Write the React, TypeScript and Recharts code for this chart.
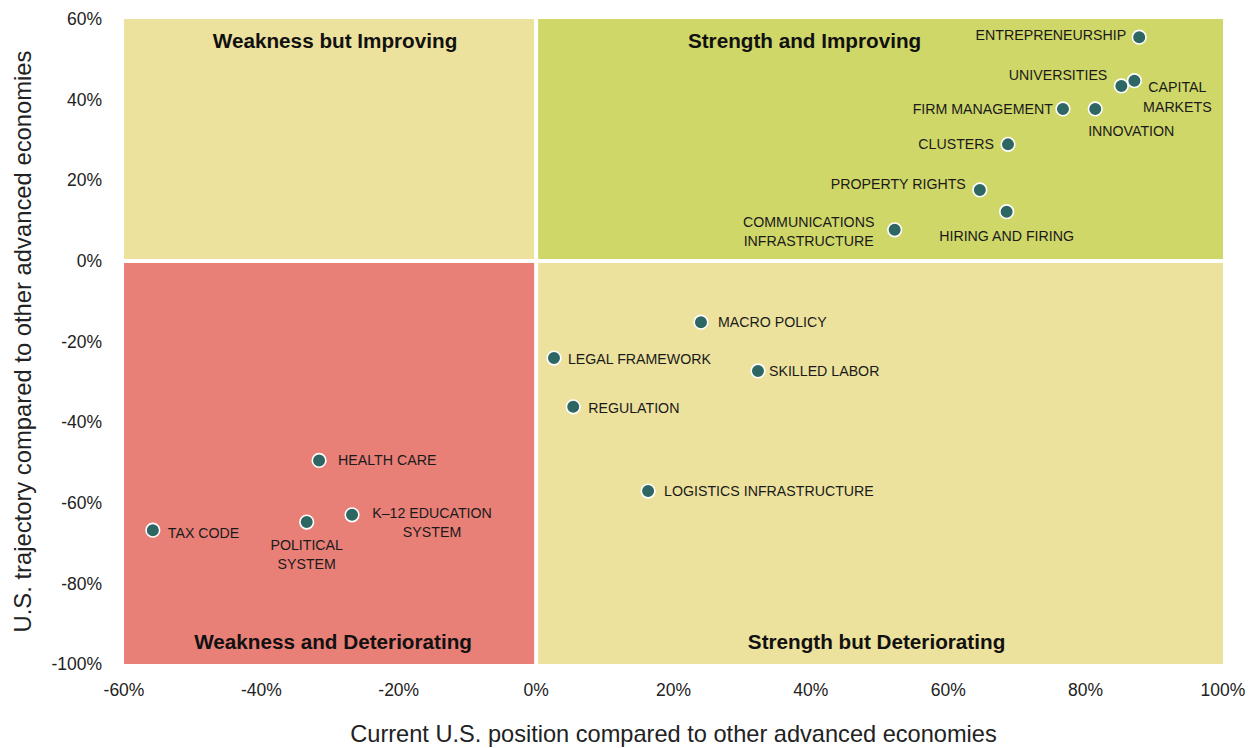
import React from 'react';
import {
  ScatterChart,
  Scatter,
  XAxis,
  YAxis,
  ReferenceArea,
  ReferenceLine,
} from 'recharts';

// ---- data ----
const names: string[] = [
  'ENTREPRENEURSHIP',
  'UNIVERSITIES',
  'CAPITAL\nMARKETS',
  'FIRM MANAGEMENT',
  'INNOVATION',
  'CLUSTERS',
  'PROPERTY RIGHTS',
  'HIRING AND FIRING',
  'COMMUNICATIONS\nINFRASTRUCTURE',
  'MACRO POLICY',
  'LEGAL FRAMEWORK',
  'SKILLED LABOR',
  'REGULATION',
  'LOGISTICS INFRASTRUCTURE',
  'HEALTH CARE',
  'K\u201312 EDUCATION\nSYSTEM',
  'POLITICAL\nSYSTEM',
  'TAX CODE',
];
const positionValues: number[] = [
  87.8, 85.2, 87.1, 76.7, 81.4, 68.7, 64.6, 68.5, 52.2, 24.0, 2.6, 32.3, 5.4, 16.3, -31.6, -26.8, -33.4, -55.8,
];
const trajectoryValues: number[] = [
  55.5, 43.4, 44.7, 37.7, 37.7, 28.9, 17.6, 12.2, 7.7, -15.2, -24.1, -27.3, -36.2, -57.1, -49.5, -63.0, -64.8, -66.8,
];
const xTicks: number[] = [-60, -40, -20, 0, 20, 40, 60, 80, 100];
const yTicks: number[] = [60, 40, 20, 0, -20, -40, -60, -80, -100];
const quadrantTitles: string[] = [
  'Weakness but Improving',
  'Strength and Improving',
  'Weakness and Deteriorating',
  'Strength but Deteriorating',
];

// ---- label placement (style) ----
type Place = { anchor: 'start' | 'middle' | 'end'; dx: number; dy: number; gap: number };
const labelPlacement: Place[] = [
  { anchor: 'end', dx: -13, dy: -2, gap: 19 },
  { anchor: 'end', dx: -14, dy: -11, gap: 19 },
  { anchor: 'middle', dx: 43, dy: 6, gap: 20 },
  { anchor: 'end', dx: -10, dy: 0, gap: 19 },
  { anchor: 'middle', dx: 36, dy: 22, gap: 19 },
  { anchor: 'end', dx: -14, dy: 0, gap: 19 },
  { anchor: 'end', dx: -14, dy: -6, gap: 19 },
  { anchor: 'middle', dx: 0, dy: 24, gap: 19 },
  { anchor: 'middle', dx: -86, dy: -8, gap: 19 },
  { anchor: 'start', dx: 17, dy: 0, gap: 19 },
  { anchor: 'start', dx: 14, dy: 1, gap: 19 },
  { anchor: 'start', dx: 11, dy: 0, gap: 19 },
  { anchor: 'start', dx: 15, dy: 1, gap: 19 },
  { anchor: 'start', dx: 16, dy: 0, gap: 19 },
  { anchor: 'start', dx: 19, dy: 0, gap: 19 },
  { anchor: 'middle', dx: 80, dy: -2, gap: 19 },
  { anchor: 'middle', dx: 0, dy: 23, gap: 18.5 },
  { anchor: 'start', dx: 15, dy: 3, gap: 19 },
];

const points = names.map((n, i) => ({
  name: n,
  x: positionValues[i],
  y: trajectoryValues[i],
  idx: i,
}));

const BASE_FONT = '"Liberation Sans", Arial, sans-serif';

const DotWithLabel = (props: any) => {
  const { cx, cy, payload } = props;
  if (cx == null || cy == null) return null;
  const p = labelPlacement[payload.idx];
  const lines = String(payload.name).split('\n');
  return (
    <g>
      <circle cx={cx} cy={cy} r={6.8} fill="#2d6663" stroke="#ffffff" strokeWidth={1.6} />
      <text textAnchor={p.anchor} fontFamily={BASE_FONT} fontSize={14.2} fill="#1a1a1a">
        {lines.map((l, k) => (
          <tspan key={k} x={cx + p.dx} y={cy + p.dy + k * p.gap} dominantBaseline="central">
            {l}
          </tspan>
        ))}
      </text>
    </g>
  );
};

const QuadTitle = (dxShift: number, top: boolean, text: string) => (props: any) => {
  const vb = props.viewBox || {};
  const x = vb.x + vb.width / 2 + dxShift;
  const y = top ? vb.y + 21 : vb.y + vb.height - 23;
  return (
    <text
      x={x}
      y={y}
      textAnchor="middle"
      dominantBaseline="central"
      fontFamily={BASE_FONT}
      fontWeight="bold"
      fontSize={20.7}
      fill="#111"
    >
      {text}
    </text>
  );
};

const YTitle = (props: any) => {
  const vb = props.viewBox || {};
  const x = 22;
  const y = vb.y + vb.height / 2;
  return (
    <text
      x={x}
      y={y}
      transform={`rotate(-90, ${x}, ${y})`}
      textAnchor="middle"
      dominantBaseline="central"
      fontFamily={BASE_FONT}
      fontSize={23.8}
      fill="#222"
    >
      U.S. trajectory compared to other advanced economies
    </text>
  );
};

const XTitle = (props: any) => {
  const vb = props.viewBox || {};
  const x = vb.x + vb.width / 2;
  const y = vb.y + 70;
  return (
    <text
      x={x}
      y={y}
      textAnchor="middle"
      dominantBaseline="central"
      fontFamily={BASE_FONT}
      fontSize={23.6}
      fill="#222"
    >
      Current U.S. position compared to other advanced economies
    </text>
  );
};

const pct = (v: number) => `${v}%`;

export default function App() {
  return (
    <div style={{ position: 'absolute', left: 0, top: 0, width: 1257, height: 748, background: '#fff' }}>
      <ScatterChart
        width={1257}
        height={748}
        margin={{ top: 19, right: 34, bottom: 0, left: 0 }}
      >
        <XAxis
          type="number"
          dataKey="x"
          domain={[-60, 100]}
          ticks={xTicks}
          tickFormatter={pct}
          axisLine={false}
          tickLine={false}
          tickSize={0}
          tickMargin={20}
          height={84}
          tick={{ fontFamily: BASE_FONT, fontSize: 17.5, fill: '#222' }}
          interval={0}
          allowDataOverflow
          label={<XTitle />}
        />
        <YAxis
          type="number"
          dataKey="y"
          domain={[-100, 60]}
          ticks={yTicks}
          tickFormatter={pct}
          axisLine={false}
          tickLine={false}
          tickSize={0}
          tickMargin={22}
          width={124}
          tick={{ fontFamily: BASE_FONT, fontSize: 17.5, fill: '#222' }}
          interval={0}
          allowDataOverflow
          label={<YTitle />}
        />
        <ReferenceArea x1={-60} x2={0} y1={0} y2={60} fill="#ece29d" fillOpacity={1} stroke="none" ifOverflow="visible"
          label={QuadTitle(5, true, quadrantTitles[0])} />
        <ReferenceArea x1={0} x2={100} y1={0} y2={60} fill="#cfd769" fillOpacity={1} stroke="none" ifOverflow="visible"
          label={QuadTitle(-75, true, quadrantTitles[1])} />
        <ReferenceArea x1={-60} x2={0} y1={-100} y2={0} fill="#e98078" fillOpacity={1} stroke="none" ifOverflow="visible"
          label={QuadTitle(3, false, quadrantTitles[2])} />
        <ReferenceArea x1={0} x2={100} y1={-100} y2={0} fill="#ece29d" fillOpacity={1} stroke="none" ifOverflow="visible"
          label={QuadTitle(-3, false, quadrantTitles[3])} />
        <ReferenceLine x={0} stroke="#ffffff" strokeWidth={4} />
        <ReferenceLine y={0} stroke="#ffffff" strokeWidth={4} />
        <Scatter data={points} isAnimationActive={false} shape={<DotWithLabel />} />
      </ScatterChart>
    </div>
  );
}
